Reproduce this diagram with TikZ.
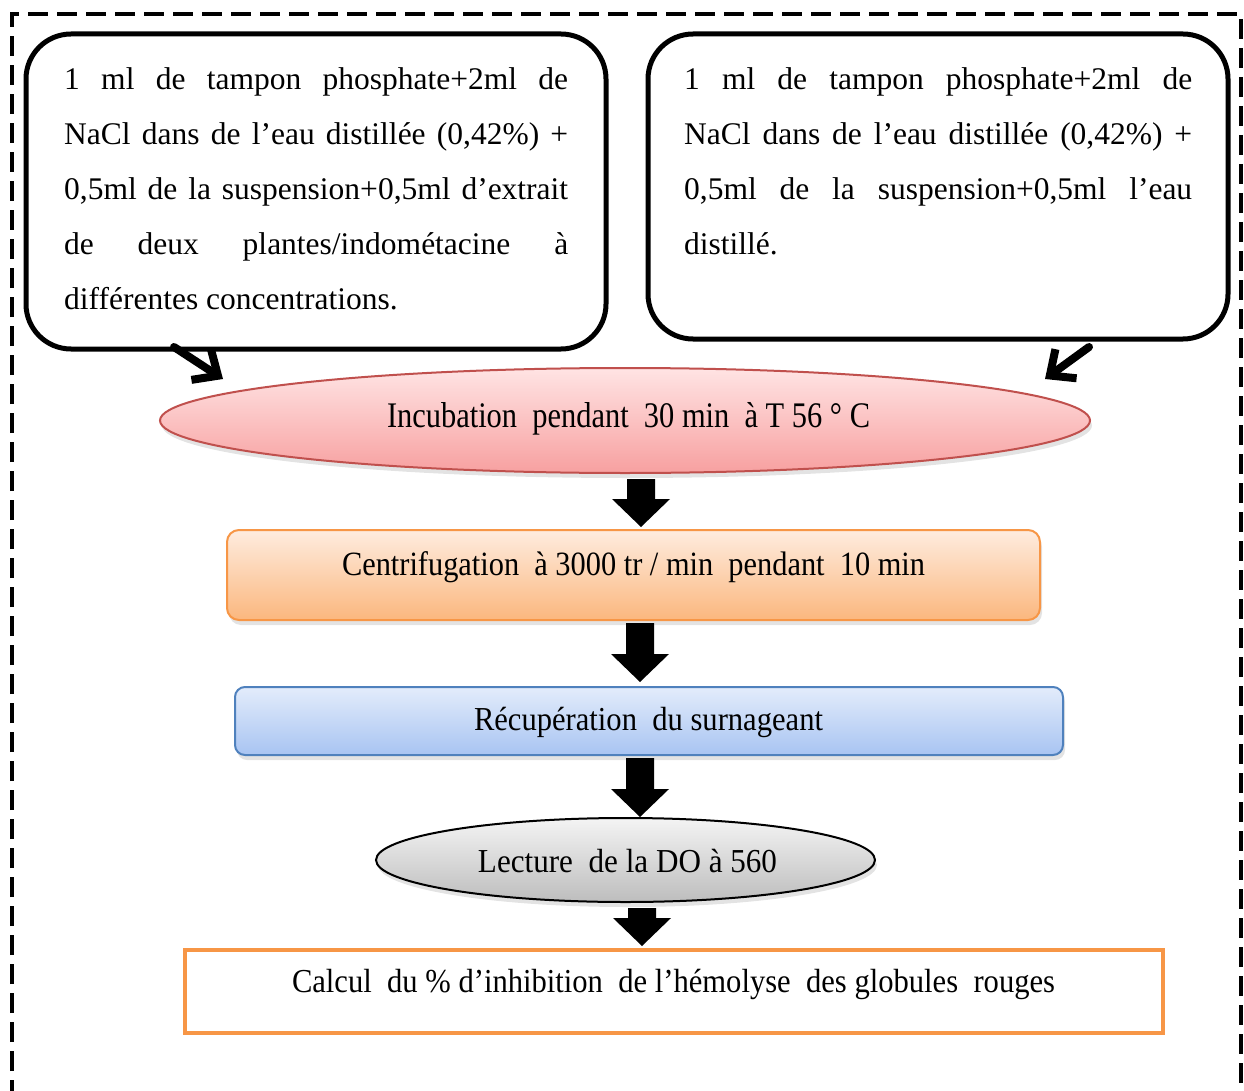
\documentclass[tikz,border=0pt]{standalone}
\usepackage{fontspec}
\usepackage{graphicx}
\setmainfont{Liberation Serif}
\usetikzlibrary{arrows.meta,shadows,calc,shapes.geometric}
\tolerance=10000
\hbadness=10000
\hyphenpenalty=10000
\definecolor{accorange}{HTML}{F79646}
\definecolor{accred}{HTML}{C0504D}
\definecolor{accblue}{HTML}{4F81BD}
\definecolor{redtop}{HTML}{FFE4E4}
\definecolor{redbot}{HTML}{F7A0A0}
\definecolor{orgtop}{HTML}{FEECDF}
\definecolor{orgbot}{HTML}{FBB77E}
\definecolor{blutop}{HTML}{E3ECFB}
\definecolor{blubot}{HTML}{A8C4F2}
\definecolor{grytop}{HTML}{F4F4F4}
\definecolor{grybot}{HTML}{BDBDBD}
\tikzset{
  bubble/.style={draw, line width=5pt, rounded corners=45pt, inner sep=0pt},
  para/.style={text width=504pt, align=justify, inner sep=0pt,
    font=\fontsize{31.5}{55}\selectfont},
  soft/.style={drop shadow={opacity=0.22, shadow xshift=2pt, shadow yshift=-5pt}},
  lbl/.style={anchor=base, inner sep=0pt},
  blockarrow/.style={to path={let \p1=(\tikztostart), \p2=(\tikztotarget) in
    (\x1-14pt,\y1) -- (\x1+14pt,\y1) -- (\x1+14pt,\y2+28pt) -- (\x1+29pt,\y2+28pt)
    -- (\x1,\y2) -- (\x1-29pt,\y2+28pt) -- (\x1-14pt,\y2+28pt) -- cycle}},
  barb/.style={line width=8pt, line cap=round, line join=round,
    -{Straight Barb[length=20pt,width=36pt]}}
}
\begin{document}
\begin{tikzpicture}[x=1pt,y=-1pt]
\useasboundingbox (0,0) rectangle (1244,1091);
% outer dashed frame
\draw[line width=4pt, dash pattern=on 20pt off 9pt] (12,1100) -- (12,14) -- (1241,14) -- (1241,1100);

% top bubbles
\node[bubble, minimum width=580pt, minimum height=315pt] (lbox) at (316,191.5) {};
\node[bubble, minimum width=580pt, minimum height=305pt] (rbox) at (938,186.5) {};

\node[para, anchor=base west] (ltext) at (64,90)
 {1 ml de tampon phosphate+2ml de\linebreak
  NaCl dans de l’eau distillée (0,42\%) +\linebreak
  0,5ml de la suspension+0,5ml d’extrait\linebreak
  de deux plantes/indométacine à\linebreak
  différentes concentrations.};
\node[para, text width=508pt, anchor=base west] (rtext) at (684,90)
 {1 ml de tampon phosphate+2ml de\linebreak
  NaCl dans de l’eau distillée (0,42\%) +\linebreak
  0,5ml de la suspension+0,5ml l’eau\linebreak
  distillé.};

% process shapes
\node[ellipse, draw=accred, line width=2pt, top color=redtop, bottom color=redbot,
      minimum width=930pt, minimum height=105pt, inner sep=0pt, soft] (incub) at (625,420.5) {};
\node[rectangle, rounded corners=12pt, draw=accorange, line width=2pt, top color=orgtop, bottom color=orgbot,
      minimum width=813pt, minimum height=90pt, inner sep=0pt, soft] (centri) at (633.5,575) {};
\node[rectangle, rounded corners=10pt, draw=accblue, line width=2pt, top color=blutop, bottom color=blubot,
      minimum width=828pt, minimum height=68pt, inner sep=0pt, soft] (recup) at (649,721) {};
\node[ellipse, draw=black, line width=2pt, top color=grytop, bottom color=grybot,
      minimum width=499pt, minimum height=84pt, inner sep=0pt, soft] (lect) at (625.5,860) {};
\node[rectangle, draw=accorange, line width=4pt, fill=white,
      minimum width=978pt, minimum height=83pt, inner sep=0pt] (calc) at (674,991.5) {};

% labels
\node[lbl] (tincub) at (628.5,427) {\resizebox{483pt}{\height}{\fontsize{36}{36}\selectfont Incubation\ \ pendant\ \ 30 min\ \ à T 56 ° C}};
\node[lbl] (tcentri) at (633.5,575) {\resizebox{583pt}{\height}{\fontsize{34}{34}\selectfont Centrifugation\ \ à 3000 tr / min\ \ pendant\ \ 10 min}};
\node[lbl] (trecup) at (648.5,730) {\resizebox{349pt}{\height}{\fontsize{33.5}{33.5}\selectfont Récupération\ \ du surnageant}};
\node[lbl] (tlect) at (627.5,872) {\resizebox{299pt}{\height}{\fontsize{33.5}{33.5}\selectfont Lecture\ \ de la DO à 560}};
\node[lbl] (tcalc) at (673.5,992) {\resizebox{763pt}{\height}{\fontsize{33.5}{33.5}\selectfont Calcul\ \ du \% d’inhibition\ \ de l’hémolyse\ \ des globules\ \ rouges}};

% block arrows
\coordinate (a1) at (641,0);
\coordinate (a2) at (640,0);
\coordinate (a4) at (642,0);
\fill[black] ($(incub.south -| a1)+(0,5)$) to[blockarrow] ($(centri.north -| a1)+(0,-2)$);
\fill[black] ($(centri.south -| a2)+(0,2)$) to[blockarrow] ($(recup.north -| a2)+(0,-4)$);
\fill[black] ($(recup.south -| a2)+(0,2)$) to[blockarrow] ($(lect.north -| a2)+(0,0)$);
\fill[black] ($(lect.south -| a4)+(0,5)$) to[blockarrow] ($(calc.north -| a4)+(0,-2)$);

% diagonal arrows from the bubbles
\coordinate (ls) at (174,347);
\coordinate (lt) at (223,379);
\coordinate (rs) at (1089,347);
\coordinate (rt) at (1045,379);
\draw[barb] (ls) -- (lt);
\draw[barb] (rs) -- (rt);
\end{tikzpicture}
\end{document}
